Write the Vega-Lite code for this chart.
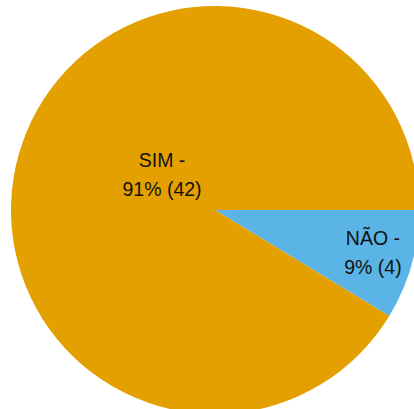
{
  "$schema": "https://vega.github.io/schema/vega-lite/v6.json",
  "width": 430,
  "height": 420,
  "autosize": "none",
  "padding": 0,
  "background": "white",
  "config": {"view": {"stroke": null}},
  "data": {
    "values": [
      {"resposta": "NÃO", "n": 4, "rotulo": ["NÃO -", "9% (4)"]},
      {"resposta": "SIM", "n": 42, "rotulo": ["SIM -", "91% (42)"]}
    ]
  },
  "encoding": {
    "theta": {"field": "n", "type": "quantitative", "stack": true, "scale": {"range": [1.5708, 7.854]}},
    "order": {"field": "resposta", "sort": "ascending"}
  },
  "layer": [
    {
      "mark": {"type": "arc", "outerRadius": 204, "stroke": null},
      "encoding": {
        "color": {
          "field": "resposta",
          "type": "nominal",
          "scale": {"domain": ["SIM", "NÃO"], "range": ["#E4A000", "#5AB4E6"]},
          "legend": null
        }
      }
    },
    {
      "mark": {"type": "text", "radius": 55, "dy": -34, "font": "Liberation Sans", "fontSize": 19.5, "lineHeight": 29, "color": "#111111", "align": "center", "baseline": "middle"},
      "encoding": {
        "text": {"condition": {"test": "datum.resposta === 'SIM'", "field": "rotulo"}, "value": ""}
      }
    },
    {
      "mark": {"type": "text", "radius": 164, "dy": -15, "font": "Liberation Sans", "fontSize": 19.5, "lineHeight": 29, "color": "#111111", "align": "center", "baseline": "middle"},
      "encoding": {
        "text": {"condition": {"test": "datum.resposta === 'NÃO'", "field": "rotulo"}, "value": ""}
      }
    }
  ]
}
